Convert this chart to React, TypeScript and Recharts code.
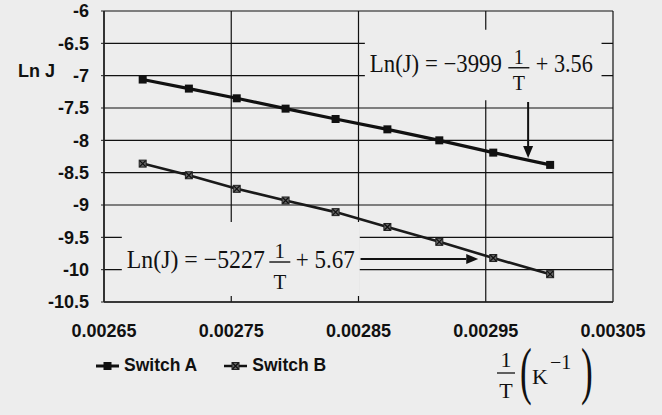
import React from 'react';
import { LineChart, Line, XAxis, YAxis, CartesianGrid, ReferenceArea, ReferenceLine, Legend } from 'recharts';

// 1/T values (K^-1)
const invT = [0.0026804, 0.0027167, 0.0027543, 0.0027927, 0.002832, 0.0028727, 0.0029135, 0.0029559, 0.0030006];
const switchA = [-7.06, -7.2, -7.35, -7.51, -7.67, -7.83, -8.0, -8.19, -8.38];
const switchB = [-8.36, -8.54, -8.75, -8.93, -9.11, -9.34, -9.57, -9.82, -10.07];

const xTicks = [0.00265, 0.00275, 0.00285, 0.00295, 0.00305];
const yTicks = [-10.5, -10, -9.5, -9, -8.5, -8, -7.5, -7, -6.5, -6];

const data = invT.map((x, i) => ({ x, a: switchA[i], b: switchB[i] }));

const BG = '#ededed';
const INK = '#111';
const SANS = 'Liberation Sans, Arial, sans-serif';
const SERIF = 'Liberation Serif, Times New Roman, serif';

const SquareDot = (props: any) => {
  const { cx, cy, index } = props;
  if (cx == null || cy == null) return null;
  return <rect key={`a-${index}`} x={cx - 4} y={cy - 4} width={8} height={8} fill={INK} />;
};

const CrossDot = (props: any) => {
  const { cx, cy, index } = props;
  if (cx == null || cy == null) return null;
  return (
    <g key={`b-${index}`}>
      <rect x={cx - 3.5} y={cy - 3.5} width={7} height={7} fill="#666" stroke="#222" strokeWidth={1} />
      <path d={`M${cx - 3} ${cy - 3}L${cx + 3} ${cy + 3}M${cx + 3} ${cy - 3}L${cx - 3} ${cy + 3}`} stroke="#111" strokeWidth={1.2} />
    </g>
  );
};

const Arrow = (props: any) => {
  const { x1, y1, x2, y2 } = props;
  const ang = Math.atan2(y2 - y1, x2 - x1);
  const c = Math.cos(ang), s = Math.sin(ang);
  const L = 12, W = 5;
  const bx = x2 - L * c, by = y2 - L * s;
  return (
    <g>
      <line x1={x1} y1={y1} x2={bx} y2={by} stroke={INK} strokeWidth={2} />
      <polygon points={`${x2},${y2} ${bx - s * W},${by + c * W} ${bx + s * W},${by - c * W}`} fill={INK} />
    </g>
  );
};

// equation text placed inside its (background coloured) reference box
const Equation = (props: any) => {
  const { viewBox, lhs, rhs, fs, ffs, main, frac, tail } = props;
  if (!viewBox) return null;
  const { x, y } = viewBox;
  return (
    <g fontFamily={SERIF} fill={INK}>
      <text x={x + main[0]} y={y + main[2]} fontSize={fs} textLength={main[1] - main[0]} lengthAdjust="spacingAndGlyphs">{lhs}</text>
      <text x={x + frac[0]} y={y + frac[1]} fontSize={ffs} textAnchor="middle">1</text>
      <line x1={x + frac[0] - frac[4]} x2={x + frac[0] + frac[4]} y1={y + frac[2]} y2={y + frac[2]} stroke={INK} strokeWidth={1.4} />
      <text x={x + frac[0]} y={y + frac[3]} fontSize={ffs} textAnchor="middle">T</text>
      <text x={x + tail[0]} y={y + main[2]} fontSize={fs} textLength={tail[1] - tail[0]} lengthAdjust="spacingAndGlyphs">{rhs}</text>
    </g>
  );
};

const YLabel = (props: any) => {
  const { viewBox } = props;
  if (!viewBox) return null;
  return (
    <text x={viewBox.x + 18} y={viewBox.y + 66} fontFamily={SANS} fontWeight="bold" fontSize={18} fill={INK}>Ln J</text>
  );
};

const XLabel = (props: any) => {
  const { viewBox } = props;
  if (!viewBox) return null;
  const cx = viewBox.x + viewBox.width - 107;
  const top = viewBox.y;
  return (
    <g fontFamily={SERIF} fill={INK}>
      <text x={cx} y={top + 65} fontSize={22} textAnchor="middle">1</text>
      <line x1={cx - 9} x2={cx + 9} y1={top + 71} y2={top + 71} stroke={INK} strokeWidth={1.3} />
      <text x={cx} y={top + 96} fontSize={22} textAnchor="middle">T</text>
      <text transform={`translate(${cx + 14},${top + 90}) scale(0.55,1)`} fontSize={64}>(</text>
      <text x={cx + 26} y={top + 82} fontSize={22}>K</text>
      <text x={cx + 44} y={top + 67} fontSize={20}>−1</text>
      <text transform={`translate(${cx + 75},${top + 90}) scale(0.55,1)`} fontSize={64}>)</text>
    </g>
  );
};

const LegendIcon = ({ kind }: { kind: string }) => (
  <svg width={23} height={12} style={{ marginRight: 5 }}>
    <line x1={0} x2={23} y1={6} y2={6} stroke={INK} strokeWidth={kind === 'a' ? 3 : 2.5} />
    {kind === 'a' ? (
      <rect x={7.5} y={2} width={8} height={8} fill={INK} />
    ) : (
      <g>
        <rect x={8} y={2.5} width={7} height={7} fill="#666" stroke="#222" />
        <path d="M8.5 3L14.5 9M14.5 3L8.5 9" stroke="#111" strokeWidth={1.2} />
      </g>
    )}
  </svg>
);

const renderLegend = (props: any) => {
  const { payload } = props;
  return (
    <div style={{ display: 'flex', alignItems: 'center', fontFamily: SANS, fontWeight: 'bold', fontSize: 17.5, color: INK }}>
      {(payload || []).map((p: any, i: number) => (
        <div key={p.value} style={{ display: 'flex', alignItems: 'center', marginRight: i === 0 ? 27 : 0 }}>
          <LegendIcon kind={i === 0 ? 'a' : 'b'} />
          <span>{p.value}</span>
        </div>
      ))}
    </div>
  );
};

export default function App() {
  return (
    <div style={{ position: 'absolute', left: 0, top: 0, width: 662, height: 415, background: BG }}>
      <LineChart width={662} height={415} data={data} margin={{ top: 11, right: 49, left: 0, bottom: 0 }}>
        <CartesianGrid stroke="#111" strokeWidth={1.2} />
        <XAxis
          dataKey="x"
          type="number"
          domain={[0.00265, 0.00305]}
          ticks={xTicks}
          tickFormatter={(v: number) => v.toFixed(5)}
          height={113}
          tickSize={0}
          tickMargin={22}
          axisLine={{ stroke: '#222', strokeWidth: 1.5 }}
          tick={{ fontFamily: SANS, fontWeight: 'bold', fontSize: 18, fill: INK }}
          label={<XLabel />}
        />
        <YAxis
          type="number"
          domain={[-10.5, -6]}
          ticks={yTicks}
          interval={0}
          width={104}
          tickSize={3}
          tickMargin={12}
          tickLine={{ stroke: '#222' }}
          axisLine={{ stroke: '#222', strokeWidth: 1.5 }}
          tick={{ fontFamily: SANS, fontWeight: 'bold', fontSize: 18, fill: INK }}
          label={<YLabel />}
        />
        <ReferenceArea
          x1={0.002855}
          x2={0.003041}
          y1={-6.29}
          y2={-7.38}
          fill={BG}
          fillOpacity={1}
          stroke="none"
          label={<Equation lhs="Ln(J) = −3999" rhs="+ 3.56" fs={25} ffs={20} main={[5, 137, 42]} frac={[154, 34, 38, 60, 10.5]} tail={[171, 228]} />}
        />
        <ReferenceArea
          x1={0.002664}
          x2={0.002851}
          y1={-9.263}
          y2={-10.407}
          fill={BG}
          fillOpacity={1}
          stroke="none"
          label={<Equation lhs="Ln(J) = −5227" rhs="+ 5.67" fs={26} ffs={21} main={[5, 143, 46]} frac={[158, 36, 40, 67, 10.5]} tail={[174, 233]} />}
        />
        <ReferenceLine segment={[{ x: 0.0029833, y: -7.407 }, { x: 0.0029833, y: -8.273 }]} shape={Arrow} />
        <ReferenceLine segment={[{ x: 0.0028516, y: -9.835 }, { x: 0.0029441, y: -9.835 }]} shape={Arrow} />
        <Line dataKey="a" name="Switch A" stroke={INK} strokeWidth={3.2} dot={SquareDot} activeDot={false} isAnimationActive={false} />
        <Line dataKey="b" name="Switch B" stroke="#1a1a1a" strokeWidth={2.6} dot={CrossDot} activeDot={false} isAnimationActive={false} />
        <Legend
          layout="horizontal"
          verticalAlign="middle"
          align="center"
          content={renderLegend}
          wrapperStyle={{ left: 96, top: 355, width: 'auto' }}
        />
      </LineChart>
    </div>
  );
}
